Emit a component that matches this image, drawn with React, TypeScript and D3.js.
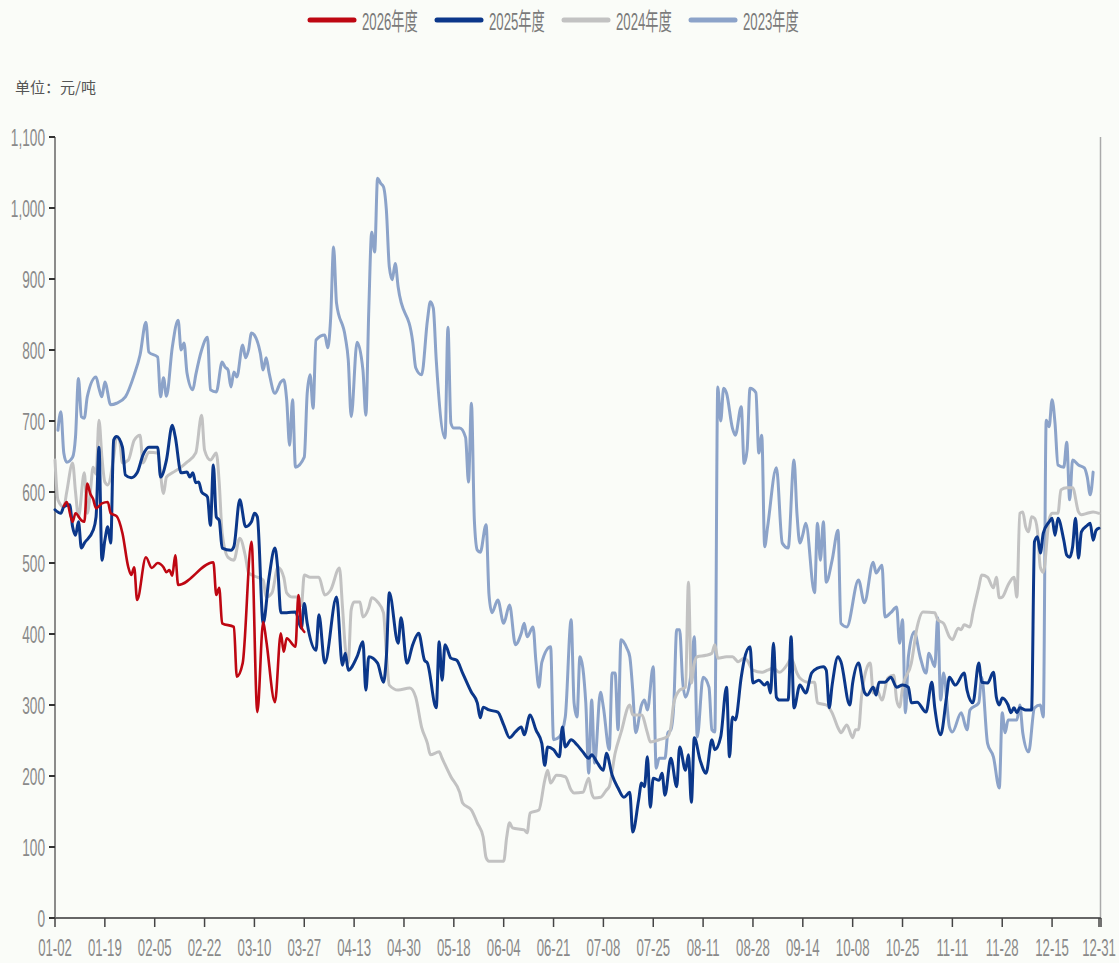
import React from "react";
import * as d3 from "d3";

const W = 1119;
const H = 963;

const seriesNames = ["2026年度", "2025年度", "2024年度", "2023年度"];
const seriesColors = ["#BE0712", "#0B378A", "#C2C2C2", "#8CA3C9"];
const yTicks = [0, 100, 200, 300, 400, 500, 600, 700, 800, 900, 1000, 1100];
const xTickLabels = ["01-02", "01-19", "02-05", "02-22", "03-10", "03-27", "04-13", "04-30", "05-18", "06-04", "06-21", "07-08", "07-25", "08-11", "08-28", "09-14", "10-08", "10-25", "11-11", "11-28", "12-15", "12-31"];
const unitLabel = "单位：元/吨";

// category axis: calendar days (leap year) without 01-01, 05-01 and 10-01..10-07
const monthDays = [31, 29, 31, 30, 31, 30, 31, 31, 30, 31, 30, 31];
const skipped = ["01-01", "05-01", "10-01", "10-02", "10-03", "10-04", "10-05", "10-06", "10-07"];
const categories: string[] = [];
monthDays.forEach((n, mi) => {
  for (let d = 1; d <= n; d++) {
    const k = String(mi + 1).padStart(2, "0") + "-" + String(d).padStart(2, "0");
    if (!skipped.includes(k)) categories.push(k);
  }
});

type P = [string, number];

const s2026: P[] = [
  ["01-05", 580], ["01-06", 586], ["01-08", 558], ["01-09", 570], ["01-11", 560], ["01-12", 558], ["01-13", 612],
  ["01-14", 598], ["01-15", 590], ["01-16", 577], ["01-18", 584], ["01-20", 586], ["01-21", 570], ["01-23", 566],
  ["01-25", 542], ["01-27", 494], ["01-28", 483], ["01-29", 494], ["01-30", 448], ["02-02", 508], ["02-04", 493],
  ["02-06", 500], ["02-08", 494], ["02-09", 487], ["02-10", 490], ["02-11", 482], ["02-12", 511], ["02-13", 469],
  ["02-25", 501], ["02-26", 455], ["02-27", 465], ["02-28", 415], ["03-03", 410], ["03-04", 340], ["03-06", 359],
  ["03-09", 530], ["03-11", 290], ["03-13", 417], ["03-14", 392], ["03-17", 304], ["03-19", 401], ["03-20", 375],
  ["03-21", 394], ["03-24", 382], ["03-25", 455], ["03-26", 410], ["03-27", 403],
];

const s2025: P[] = [
  ["01-02", 575], ["01-04", 570], ["01-05", 579], ["01-07", 582], ["01-08", 551], ["01-09", 539], ["01-10", 558],
  ["01-11", 521], ["01-12", 528], ["01-15", 546], ["01-16", 565], ["01-17", 663], ["01-18", 504], ["01-19", 532],
  ["01-20", 551], ["01-21", 528], ["01-22", 673], ["01-23", 678], ["01-25", 663], ["01-26", 624], ["01-28", 620],
  ["01-30", 627], ["02-01", 652], ["02-03", 663], ["02-06", 663], ["02-07", 621], ["02-09", 645], ["02-11", 694],
  ["02-12", 678], ["02-14", 627], ["02-16", 628], ["02-17", 621], ["02-18", 627], ["02-19", 613], ["02-20", 614],
  ["02-21", 600], ["02-23", 593], ["02-24", 553], ["02-25", 638], ["02-26", 565], ["02-27", 560], ["02-28", 521],
  ["03-02", 518], ["03-03", 523], ["03-05", 589], ["03-07", 551], ["03-09", 558], ["03-10", 570], ["03-11", 565],
  ["03-13", 415], ["03-15", 480], ["03-17", 521], ["03-18", 490], ["03-19", 430], ["03-21", 430], ["03-24", 431],
  ["03-26", 408], ["03-27", 443], ["03-28", 415], ["03-31", 377], ["04-01", 427], ["04-03", 359], ["04-07", 452],
  ["04-09", 356], ["04-10", 373], ["04-11", 349], ["04-14", 368], ["04-16", 389], ["04-17", 321], ["04-18", 368],
  ["04-21", 359], ["04-23", 332], ["04-24", 368], ["04-25", 458], ["04-28", 387], ["04-29", 423], ["05-02", 359],
  ["05-04", 385], ["05-06", 401], ["05-08", 363], ["05-09", 359], ["05-12", 296], ["05-13", 389], ["05-14", 335],
  ["05-15", 385], ["05-17", 366], ["05-19", 363], ["05-21", 345], ["05-24", 318], ["05-26", 303], ["05-27", 282],
  ["05-28", 297], ["05-30", 293], ["06-02", 290], ["06-04", 272], ["06-06", 254], ["06-08", 262], ["06-10", 269],
  ["06-11", 258], ["06-13", 286], ["06-15", 265], ["06-17", 246], ["06-18", 215], ["06-19", 241], ["06-21", 237],
  ["06-23", 227], ["06-24", 269], ["06-25", 241], ["06-27", 251], ["06-29", 244], ["07-01", 234], ["07-03", 225],
  ["07-04", 230], ["07-06", 218], ["07-08", 208], ["07-09", 232], ["07-11", 201], ["07-13", 183], ["07-15", 170],
  ["07-17", 177], ["07-18", 121], ["07-20", 166], ["07-21", 190], ["07-22", 185], ["07-23", 227], ["07-24", 156],
  ["07-25", 197], ["07-27", 194], ["07-28", 204], ["07-29", 173], ["07-31", 225], ["08-02", 185], ["08-03", 241],
  ["08-05", 208], ["08-06", 230], ["08-07", 163], ["08-08", 254], ["08-10", 222], ["08-12", 204], ["08-14", 251],
  ["08-15", 237], ["08-17", 255], ["08-19", 325], ["08-20", 227], ["08-21", 283], ["08-22", 279], ["08-24", 339],
  ["08-25", 363], ["08-27", 382], ["08-28", 331], ["08-30", 335], ["09-01", 328], ["09-02", 332], ["09-03", 317],
  ["09-04", 387], ["09-05", 311], ["09-06", 307], ["09-09", 307], ["09-10", 396], ["09-11", 296], ["09-13", 328],
  ["09-15", 317], ["09-17", 345], ["09-19", 352], ["09-21", 354], ["09-22", 349], ["09-23", 296], ["09-24", 328],
  ["09-26", 368], ["09-27", 361], ["09-30", 300], ["10-08", 331], ["10-10", 359], ["10-12", 318], ["10-13", 314],
  ["10-15", 325], ["10-16", 314], ["10-17", 332], ["10-19", 332], ["10-21", 339], ["10-23", 325], ["10-25", 328],
  ["10-27", 325], ["10-28", 303], ["10-30", 304], ["11-02", 290], ["11-04", 332], ["11-05", 296], ["11-07", 258],
  ["11-09", 311], ["11-10", 339], ["11-12", 328], ["11-15", 345], ["11-16", 321], ["11-18", 303], ["11-20", 359],
  ["11-21", 332], ["11-23", 331], ["11-25", 346], ["11-26", 311], ["11-27", 300], ["11-28", 310], ["11-30", 300],
  ["12-01", 289], ["12-02", 296], ["12-03", 289], ["12-04", 296], ["12-06", 293], ["12-08", 293], ["12-09", 530],
  ["12-10", 537], ["12-11", 514], ["12-12", 542], ["12-14", 558], ["12-15", 563], ["12-16", 539], ["12-17", 563],
  ["12-19", 532], ["12-20", 511], ["12-21", 508], ["12-22", 523], ["12-23", 563], ["12-24", 507], ["12-25", 544],
  ["12-27", 553], ["12-28", 556], ["12-29", 532], ["12-30", 546], ["12-31", 549],
];

const s2024: P[] = [
  ["01-02", 645], ["01-03", 589], ["01-05", 579], ["01-06", 600], ["01-08", 641], ["01-09", 600], ["01-10", 565],
  ["01-12", 627], ["01-13", 570], ["01-14", 598], ["01-15", 635], ["01-16", 625], ["01-17", 701], ["01-18", 649],
  ["01-19", 614], ["01-20", 610], ["01-22", 649], ["01-23", 678], ["01-24", 673], ["01-25", 641], ["01-27", 645],
  ["01-29", 673], ["01-31", 680], ["02-01", 641], ["02-03", 656], ["02-06", 655], ["02-08", 598], ["02-09", 621],
  ["02-11", 627], ["02-14", 635], ["02-16", 642], ["02-19", 655], ["02-21", 708], ["02-22", 659], ["02-24", 645],
  ["02-26", 655], ["02-27", 613], ["02-28", 542], ["03-01", 508], ["03-03", 504], ["03-05", 535], ["03-07", 508],
  ["03-08", 486], ["03-11", 480], ["03-13", 476], ["03-14", 452], ["03-16", 458], ["03-18", 494], ["03-20", 480],
  ["03-21", 458], ["03-23", 452], ["03-25", 452], ["03-26", 440], ["03-27", 483], ["03-29", 480], ["04-01", 480],
  ["04-03", 455], ["04-05", 462], ["04-08", 493], ["04-09", 440], ["04-10", 380], ["04-11", 359], ["04-12", 434],
  ["04-13", 445], ["04-15", 445], ["04-16", 424], ["04-18", 437], ["04-19", 451], ["04-21", 445], ["04-23", 430],
  ["04-24", 373], ["04-25", 328], ["04-28", 321], ["05-03", 324], ["05-05", 311], ["05-07", 269], ["05-09", 246],
  ["05-10", 230], ["05-13", 234], ["05-14", 225], ["05-17", 199], ["05-20", 177], ["05-21", 162], ["05-24", 152],
  ["05-26", 134], ["05-28", 114], ["05-29", 85], ["05-30", 80], ["06-04", 80], ["06-05", 113], ["06-06", 134],
  ["06-07", 127], ["06-11", 124], ["06-12", 120], ["06-13", 148], ["06-16", 152], ["06-18", 194], ["06-19", 208],
  ["06-20", 190], ["06-22", 201], ["06-25", 199], ["06-27", 180], ["06-28", 176], ["07-01", 177], ["07-03", 197],
  ["07-04", 176], ["07-05", 169], ["07-07", 170], ["07-09", 180], ["07-10", 185], ["07-12", 232], ["07-14", 261],
  ["07-17", 300], ["07-18", 286], ["07-21", 286], ["07-23", 261], ["07-24", 248], ["07-27", 251], ["07-30", 256],
  ["07-31", 269], ["08-01", 303], ["08-03", 321], ["08-05", 325], ["08-06", 473], ["08-07", 331], ["08-08", 359],
  ["08-09", 368], ["08-12", 370], ["08-14", 373], ["08-15", 385], ["08-16", 366], ["08-19", 368], ["08-21", 368],
  ["08-23", 361], ["08-25", 366], ["08-26", 363], ["08-28", 349], ["08-31", 346], ["09-02", 349], ["09-04", 352],
  ["09-06", 346], ["09-09", 359], ["09-10", 366], ["09-12", 345], ["09-13", 338], ["09-16", 332], ["09-18", 332],
  ["09-19", 303], ["09-22", 300], ["09-23", 296], ["09-24", 289], ["09-26", 268], ["09-27", 261], ["09-29", 272],
  ["10-08", 254], ["10-09", 265], ["10-10", 265], ["10-11", 311], ["10-13", 354], ["10-14", 359], ["10-15", 317],
  ["10-16", 324], ["10-18", 307], ["10-20", 338], ["10-22", 342], ["10-23", 307], ["10-24", 297], ["10-25", 324],
  ["10-28", 359], ["10-30", 410], ["11-01", 431], ["11-05", 430], ["11-06", 420], ["11-08", 415], ["11-10", 396],
  ["11-11", 392], ["11-13", 408], ["11-14", 406], ["11-15", 413], ["11-17", 410], ["11-18", 430], ["11-20", 466],
  ["11-21", 483], ["11-23", 480], ["11-25", 465], ["11-26", 480], ["11-27", 451], ["11-28", 452], ["11-30", 469],
  ["12-02", 480], ["12-03", 452], ["12-04", 570], ["12-05", 572], ["12-06", 551], ["12-07", 544], ["12-08", 565],
  ["12-09", 563], ["12-10", 546], ["12-11", 494], ["12-12", 487], ["12-14", 561], ["12-15", 570], ["12-17", 570],
  ["12-18", 603], ["12-20", 606], ["12-22", 606], ["12-24", 572], ["12-25", 568], ["12-27", 570], ["12-29", 572],
  ["12-31", 570],
];

const s2023: P[] = [
  ["01-03", 687], ["01-04", 713], ["01-05", 655], ["01-06", 642], ["01-08", 649], ["01-09", 678], ["01-10", 760],
  ["01-11", 706], ["01-12", 704], ["01-13", 734], ["01-16", 762], ["01-17", 746], ["01-18", 734], ["01-19", 755],
  ["01-21", 723], ["01-23", 725], ["01-26", 734], ["01-29", 765], ["01-31", 793], ["02-02", 839], ["02-03", 797],
  ["02-06", 790], ["02-07", 734], ["02-08", 761], ["02-09", 735], ["02-11", 804], ["02-13", 842], ["02-14", 800],
  ["02-15", 810], ["02-16", 768], ["02-18", 744], ["02-19", 765], ["02-21", 800], ["02-23", 818], ["02-24", 744],
  ["02-26", 741], ["02-28", 783], ["02-29", 776], ["03-01", 772], ["03-02", 748], ["03-03", 769], ["03-04", 762],
  ["03-06", 807], ["03-07", 789], ["03-08", 800], ["03-09", 824], ["03-10", 821], ["03-12", 796], ["03-13", 772],
  ["03-14", 789], ["03-15", 768], ["03-17", 739], ["03-19", 755], ["03-20", 758], ["03-21", 730], ["03-22", 666],
  ["03-23", 730], ["03-24", 635], ["03-27", 649], ["03-28", 739], ["03-29", 765], ["03-30", 718], ["03-31", 814],
  ["04-03", 821], ["04-04", 803], ["04-05", 845], ["04-06", 945], ["04-07", 866], ["04-10", 818], ["04-11", 786],
  ["04-12", 706], ["04-14", 811], ["04-16", 772], ["04-17", 708], ["04-18", 856], ["04-19", 966], ["04-20", 938],
  ["04-21", 1042], ["04-22", 1035], ["04-23", 1030], ["04-24", 997], ["04-25", 917], ["04-26", 899], ["04-27", 922],
  ["04-28", 889], ["05-04", 811], ["05-05", 775], ["05-07", 765], ["05-09", 842], ["05-10", 868], ["05-11", 859],
  ["05-12", 786], ["05-15", 676], ["05-16", 832], ["05-17", 697], ["05-18", 690], ["05-20", 690], ["05-22", 677],
  ["05-23", 614], ["05-24", 725], ["05-25", 560], ["05-26", 518], ["05-27", 515], ["05-29", 554], ["05-30", 455],
  ["05-31", 430], ["06-02", 448], ["06-04", 415], ["06-06", 441], ["06-08", 385], ["06-10", 401], ["06-11", 415],
  ["06-12", 396], ["06-14", 410], ["06-15", 361], ["06-16", 325], ["06-17", 360], ["06-20", 382], ["06-21", 251],
  ["06-23", 255], ["06-25", 283], ["06-27", 420], ["06-28", 303], ["06-29", 283], ["06-30", 368], ["07-02", 303],
  ["07-03", 204], ["07-04", 307], ["07-05", 218], ["07-07", 318], ["07-08", 297], ["07-10", 237], ["07-11", 345],
  ["07-12", 345], ["07-13", 265], ["07-14", 392], ["07-16", 380], ["07-17", 368], ["07-18", 321], ["07-19", 261],
  ["07-21", 300], ["07-22", 307], ["07-23", 293], ["07-25", 354], ["07-26", 211], ["07-27", 225], ["07-29", 225],
  ["07-30", 261], ["07-31", 265], ["08-01", 300], ["08-02", 406], ["08-03", 406], ["08-04", 335], ["08-05", 311],
  ["08-07", 349], ["08-08", 396], ["08-09", 255], ["08-11", 339], ["08-13", 325], ["08-14", 265], ["08-15", 262],
  ["08-16", 748], ["08-17", 700], ["08-18", 746], ["08-19", 739], ["08-21", 690], ["08-22", 680], ["08-24", 720],
  ["08-25", 640], ["08-26", 659], ["08-27", 746], ["08-29", 740], ["08-30", 655], ["08-31", 680], ["09-01", 523],
  ["09-02", 551], ["09-05", 634], ["09-07", 528], ["09-09", 521], ["09-11", 645], ["09-12", 570], ["09-13", 528],
  ["09-14", 540], ["09-15", 556], ["09-18", 458], ["09-19", 556], ["09-20", 504], ["09-21", 558], ["09-22", 473],
  ["09-24", 504], ["09-26", 546], ["09-27", 415], ["09-29", 410], ["10-10", 476], ["10-12", 444], ["10-15", 501],
  ["10-16", 486], ["10-18", 497], ["10-19", 424], ["10-21", 430], ["10-23", 438], ["10-24", 387], ["10-25", 420],
  ["10-26", 289], ["10-27", 368], ["10-29", 403], ["10-31", 368], ["11-02", 345], ["11-03", 373], ["11-05", 354],
  ["11-06", 423], ["11-07", 307], ["11-08", 345], ["11-10", 269], ["11-11", 262], ["11-14", 289], ["11-16", 265],
  ["11-17", 293], ["11-20", 303], ["11-21", 339], ["11-23", 246], ["11-25", 227], ["11-27", 183], ["11-28", 289],
  ["11-29", 261], ["11-30", 279], ["12-03", 279], ["12-04", 300], ["12-05", 261], ["12-07", 234], ["12-09", 296],
  ["12-11", 300], ["12-12", 283], ["12-13", 701], ["12-14", 692], ["12-15", 730], ["12-16", 697], ["12-17", 638],
  ["12-19", 635], ["12-20", 670], ["12-21", 589], ["12-22", 645], ["12-24", 638], ["12-26", 634], ["12-27", 621],
  ["12-28", 596], ["12-29", 628],
];

const seriesData = [s2026, s2025, s2024, s2023];

const LEFT = 55;
const RIGHT = 1099;
const TOP = 137;
const BOTTOM = 918;

const FONT = "'Liberation Sans', 'Noto Sans CJK SC', sans-serif";

function NText(props: { x: number; y: number; anchor?: string; size: number; sx: number; fill: string; children: React.ReactNode }) {
  const { x, y, anchor = "start", size, sx, fill, children } = props;
  return (
    <g transform={`translate(${x},${y}) scale(${sx},1)`}>
      <text x={0} y={0} textAnchor={anchor} dominantBaseline="central" fontSize={size} fill={fill} fontFamily={FONT}>
        {children}
      </text>
    </g>
  );
}

export default function App() {
  const x = d3.scalePoint<string>().domain(categories).range([LEFT, RIGHT]);
  const y = d3.scaleLinear().domain([0, 1100]).range([BOTTOM, TOP]);
  const line = d3
    .line<P>()
    .x((d) => x(d[0]) as number)
    .y((d) => y(d[1]))
    .curve(d3.curveMonotoneX);

  const fmt = d3.format(",");
  const widths = [2.6, 3, 3, 3];
  const drawOrder = [3, 2, 1, 0];

  return (
    <div style={{ position: "fixed", left: 0, top: 0, width: W, height: H, background: "#FAFCF8" }}>
      <svg width={W} height={H} style={{ display: "block" }}>
        <rect x={0} y={0} width={W} height={H} fill="#FAFCF8" />

        {/* legend */}
        {seriesNames.map((n, i) => {
          const lx = 308 + i * 127;
          return (
            <g key={n}>
              <line x1={lx + 2} x2={lx + 46} y1={20} y2={20} stroke={seriesColors[i]} strokeWidth={5} strokeLinecap="round" />
              <NText x={lx + 54} y={21} size={24} sx={0.55} fill="#7a7a7a">
                {n}
              </NText>
            </g>
          );
        })}

        <text x={15} y={86} fontSize={15} fill="#555" fontFamily="'Noto Sans CJK SC', sans-serif" dominantBaseline="central">
          {unitLabel}
        </text>

        {/* y axis */}
        <line x1={LEFT} x2={LEFT} y1={TOP} y2={BOTTOM} stroke="#666" strokeWidth={1.5} />
        {yTicks.map((t) => (
          <g key={t}>
            <line x1={LEFT - 6} x2={LEFT} y1={y(t)} y2={y(t)} stroke="#333" strokeWidth={2} />
            <NText x={LEFT - 10} y={y(t)} anchor="end" size={24} sx={0.57} fill="#8a8a8a">
              {fmt(t)}
            </NText>
          </g>
        ))}

        {/* right border */}
        <line x1={RIGHT + 1.5} x2={RIGHT + 1.5} y1={TOP} y2={BOTTOM} stroke="#aaa" strokeWidth={1.5} />

        {/* series */}
        {drawOrder.map((i) => (
          <path key={seriesNames[i]} d={line(seriesData[i]) || ""} fill="none" stroke={seriesColors[i]} strokeWidth={widths[i]} strokeLinejoin="round" strokeLinecap="round" />
        ))}

        {/* x axis */}
        <line x1={LEFT} x2={RIGHT + 2} y1={BOTTOM} y2={BOTTOM} stroke="#666" strokeWidth={2} />
        {xTickLabels.map((t) => (
          <g key={t}>
            <line x1={x(t)} x2={x(t)} y1={BOTTOM} y2={BOTTOM + 9} stroke="#444" strokeWidth={1.5} />
            <NText x={x(t) as number} y={BOTTOM + 29} anchor="middle" size={24} sx={0.55} fill="#8a8a8a">
              {t}
            </NText>
          </g>
        ))}
        <line x1={RIGHT + 2} x2={RIGHT + 2} y1={BOTTOM} y2={BOTTOM + 9} stroke="#444" strokeWidth={1.5} />
      </svg>
    </div>
  );
}
